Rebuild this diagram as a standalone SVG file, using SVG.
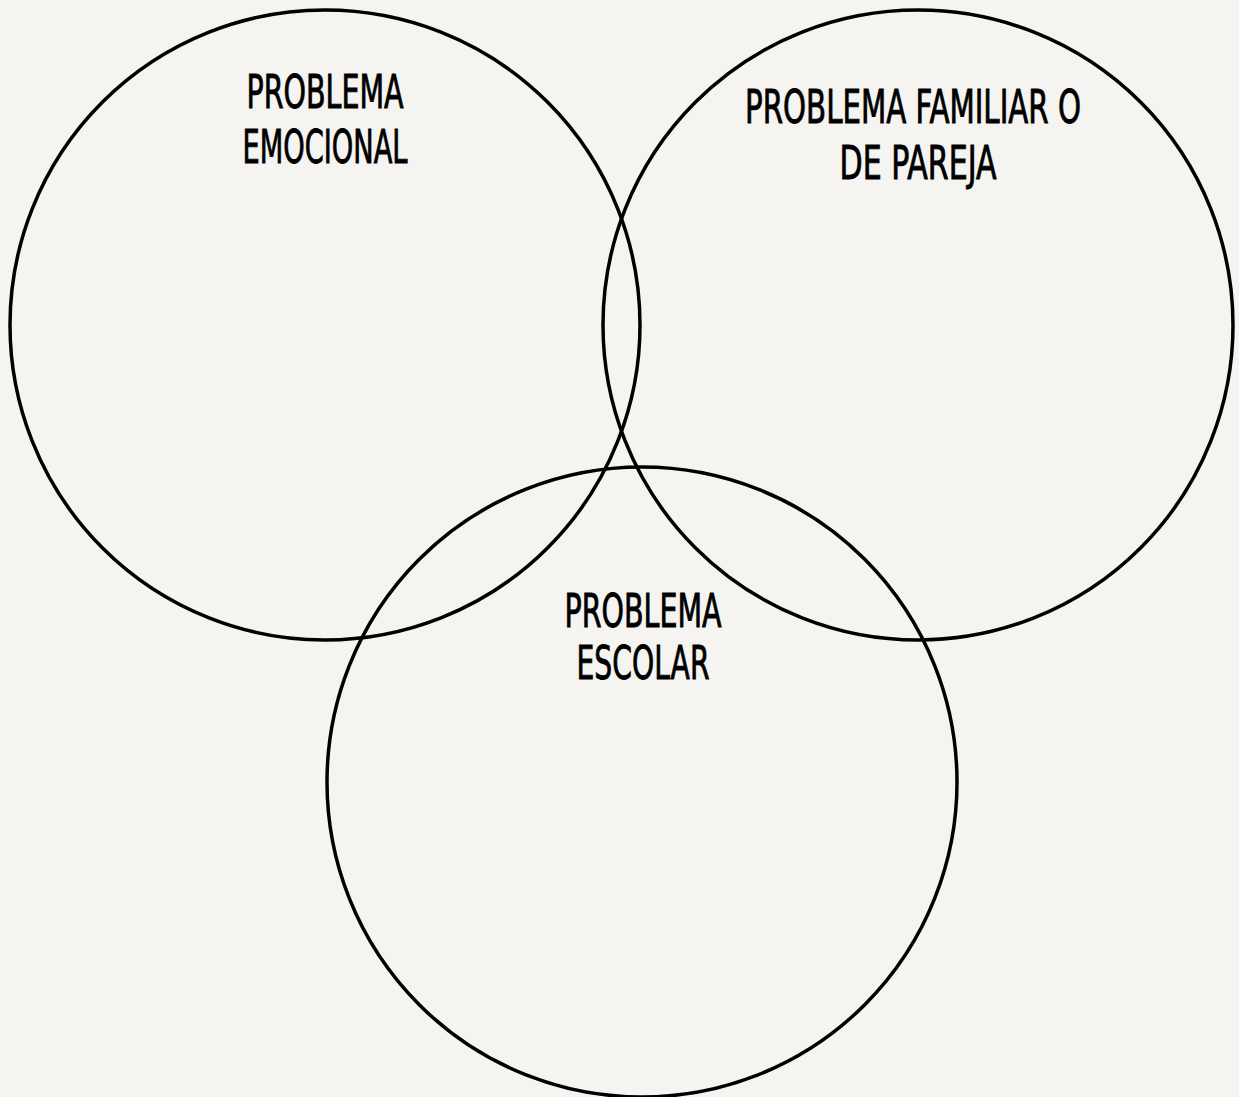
<svg xmlns="http://www.w3.org/2000/svg" width="1239" height="1097" viewBox="0 0 1239 1097">
<style>
.c{fill:none;stroke:#000;stroke-width:3.5}
.t{font-family:"DejaVu Sans","Liberation Sans",sans-serif;font-stretch:condensed;font-size:47px;fill:#000;stroke:#000;stroke-width:0.9;text-anchor:middle}
</style>
<rect width="1239" height="1097" fill="#f5f4f0"/>
<g id="emocional">
<circle class="c" cx="325" cy="325" r="315"/>
<text class="t" x="325" y="108" textLength="157" lengthAdjust="spacingAndGlyphs">PROBLEMA</text>
<text class="t" x="325" y="163" textLength="165" lengthAdjust="spacingAndGlyphs">EMOCIONAL</text>
</g>
<g id="familiar">
<circle class="c" cx="918" cy="325" r="315"/>
<text class="t" x="913" y="123" textLength="336" lengthAdjust="spacingAndGlyphs">PROBLEMA FAMILIAR O</text>
<text class="t" x="918" y="179" textLength="157" lengthAdjust="spacingAndGlyphs">DE PAREJA</text>
</g>
<g id="escolar">
<circle class="c" cx="642" cy="782" r="315"/>
<text class="t" x="643" y="627" textLength="157" lengthAdjust="spacingAndGlyphs">PROBLEMA</text>
<text class="t" x="643" y="679" textLength="133" lengthAdjust="spacingAndGlyphs">ESCOLAR</text>
</g>
<g id="connectors"/>
</svg>
